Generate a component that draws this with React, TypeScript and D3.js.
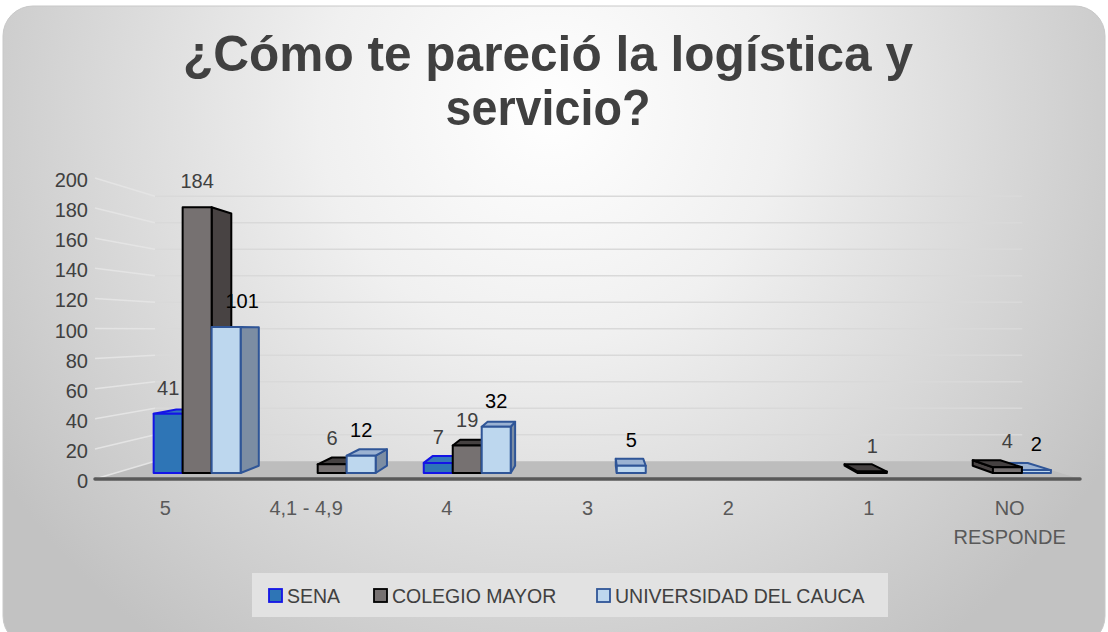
import React from "react";
import * as d3 from "d3";

// chart data
const categories = ["5", "4,1 - 4,9", "4", "3", "2", "1", "NO RESPONDE"];
const seriesNames = ["SENA", "COLEGIO MAYOR", "UNIVERSIDAD DEL CAUCA"];
const sena = [41, 0, 7, 0, 0, 0, 0];
const colegioMayor = [184, 6, 19, 0, 0, 1, 4];
const universidadCauca = [101, 12, 32, 5, 0, 0, 2];
const yTicks = [0, 20, 40, 60, 80, 100, 120, 140, 160, 180, 200];
const titleLines = ["¿Cómo te pareció la logística y", "servicio?"];

const seriesValues = [sena, colegioMayor, universidadCauca];

// look of each series (front, top, side faces + outline)
const looks = [
  { front: "#2E75B6", top: "#3578BC", side: "#22598A", stroke: "#1414E6", label: "#404040" },
  { front: "#767171", top: "#454141", side: "#484343", stroke: "#000000", label: "#404040" },
  { front: "#BDD7EE", top: "#9BB2D2", side: "#7C8DA3", stroke: "#2F5597", label: "#000000" },
];

const W = 1108;
const H = 632;
const FONT = "'Liberation Sans', Arial, sans-serif";

// simple one point perspective for the 3d box
const VX = 597;
const VY = 330;
const K = 0.1195;
const W0 = 0.337; // front of the bars (depth fraction)
const W1 = 0.747; // back of the bars

function project(u: number, yy: number, w: number): [number, number] {
  return [u + w * K * (VX - u), yy + w * K * (VY - yy)];
}

function poly(pts: [number, number][]) {
  return "M" + pts.map((p) => p[0].toFixed(2) + "," + p[1].toFixed(2)).join("L") + "Z";
}

export default function App() {
  const x = d3.scaleBand<string>().domain(categories).range([95, 1080]);
  const xs = d3.scaleBand<string>().domain(seriesNames).range([-45.3, 45.3]);
  const y = d3.scaleLinear().domain([0, 200]).range([479, 178]);
  const clusterShift = 15;

  type Bar = { si: number; ci: number; v: number; u0: number; u1: number };
  const bars: Bar[] = [];
  seriesValues.forEach((vals, si) => {
    vals.forEach((v, ci) => {
      if (v <= 0) return;
      const c = (x(categories[ci]) as number) + x.bandwidth() / 2 + clusterShift;
      const u0 = c + (xs(seriesNames[si]) as number);
      bars.push({ si, ci, v, u0, u1: u0 + xs.bandwidth() });
    });
  });
  // far from the vanishing point first
  const ordered = bars
    .slice()
    .sort((a, b) => Math.abs((b.u0 + b.u1) / 2 - VX) - Math.abs((a.u0 + a.u1) / 2 - VX));

  const y0 = y(0);

  return (
    <svg
      width={W}
      height={H}
      style={{ position: "absolute", left: 0, top: 0, background: "#ffffff" }}
      fontFamily={FONT}
    >
      <defs>
        <radialGradient id="bg" gradientUnits="userSpaceOnUse" cx={550} cy={110} r={660}>
          <stop offset="0" stopColor="#ffffff" />
          <stop offset="0.35" stopColor="#f0f0f0" />
          <stop offset="1" stopColor="#c2c2c2" />
        </radialGradient>
      </defs>
      <rect x={3} y={6} width={1102} height={640} rx={30} fill="url(#bg)" stroke="#c8c8c8" />

      {/* title */}
      {titleLines.map((t, i) => (
        <text
          key={i}
          x={548}
          y={71 + i * 54}
          textAnchor="middle"
          fontSize={50}
          fontWeight="bold"
          fill="#404040"
          textLength={i === 0 ? 730 : 205}
          lengthAdjust="spacingAndGlyphs"
        >
          {t}
        </text>
      ))}

      {/* floor */}
      <path
        d={poly([
          project(95, y0, 0),
          project(1080, y0, 0),
          project(1080, y0, 1),
          project(95, y0, 1),
        ])}
        fill="#bdbdbd"
      />

      {/* gridlines on side wall and back wall */}
      {yTicks.map((t) => {
        const a = project(95, y(t), 0);
        const b = project(95, y(t), 1);
        const c = project(1080, y(t), 1);
        return (
          <g key={t}>
            <line x1={a[0]} y1={a[1]} x2={b[0]} y2={b[1]} stroke="#e4e4e4" strokeWidth={1.5} />
            {t > 0 && (
              <line x1={b[0]} y1={b[1]} x2={c[0]} y2={c[1]} stroke="#d9d9d9" strokeWidth={1.5} />
            )}
          </g>
        );
      })}

      {/* y tick labels */}
      {yTicks.map((t) => (
        <text
          key={"yl" + t}
          x={88}
          y={y(t) + 2}
          textAnchor="end"
          dominantBaseline="central"
          fontSize={20}
          fill="#404040"
        >
          {t}
        </text>
      ))}

      {/* axis line */}
      <line x1={95} y1={y0} x2={1080} y2={y0} stroke="#595959" strokeWidth={3.5} strokeLinecap="round" />

      {/* category labels */}
      {categories.map((c) => {
        const cx = (x(c) as number) + x.bandwidth() / 2;
        const lines = c.length > 10 ? c.split(" ") : [c];
        return (
          <text key={c} x={cx} y={508} textAnchor="middle" fontSize={20} fill="#595959">
            {lines.map((l, i) => (
              <tspan key={i} x={cx} dy={i === 0 ? "0.35em" : 29}>
                {l}
              </tspan>
            ))}
          </text>
        );
      })}

      {/* 3d bars */}
      {ordered.map((b) => {
        const lk = looks[b.si];
        const yt = y(b.v);
        const A = project(b.u0, yt, W0);
        const B = project(b.u1, yt, W0);
        const C = project(b.u1, y0, W0);
        const D = project(b.u0, y0, W0);
        const A2 = project(b.u0, yt, W1);
        const B2 = project(b.u1, yt, W1);
        const C2 = project(b.u1, y0, W1);
        const D2 = project(b.u0, y0, W1);
        return (
          <g key={b.si + "-" + b.ci} strokeLinejoin="round" stroke={lk.stroke} strokeWidth={2}>
            {b.u1 < VX && <path d={poly([B, C, C2, B2])} fill={lk.side} />}
            {b.u0 > VX && <path d={poly([A, D, D2, A2])} fill={lk.side} />}
            {yt > VY && <path d={poly([A, B, B2, A2])} fill={lk.top} />}
            <path d={poly([A, B, C, D])} fill={lk.front} />
          </g>
        );
      })}

      {/* data labels */}
      {bars.map((b) => {
        const p = project((b.u0 + b.u1) / 2, y(b.v), W0);
        // label pushed right when a taller neighbour bar sits to its left
        const left = b.si > 0 ? seriesValues[b.si - 1][b.ci] : 0;
        const dx = left > b.v * 1.5 && b.v > 50 ? 16 : 0;
        return (
          <text
            key={"dl" + b.si + "-" + b.ci}
            x={p[0] + dx}
            y={p[1] - 26}
            textAnchor="middle"
            dominantBaseline="central"
            fontSize={20}
            fill={looks[b.si].label}
          >
            {b.v}
          </text>
        );
      })}

      {/* legend */}
      <rect x={252} y={573} width={636} height={44} fill="#e2e2e2" />
      {seriesNames.map((s, i) => {
        const lx = [269, 374, 597][i];
        return (
          <g key={s}>
            <rect
              x={lx}
              y={589}
              width={13}
              height={13}
              fill={looks[i].front}
              stroke={looks[i].stroke}
              strokeWidth={1.8}
            />
            <text x={lx + 18} y={596} dominantBaseline="central" fontSize={19.5} fill="#404040">
              {s}
            </text>
          </g>
        );
      })}
    </svg>
  );
}
